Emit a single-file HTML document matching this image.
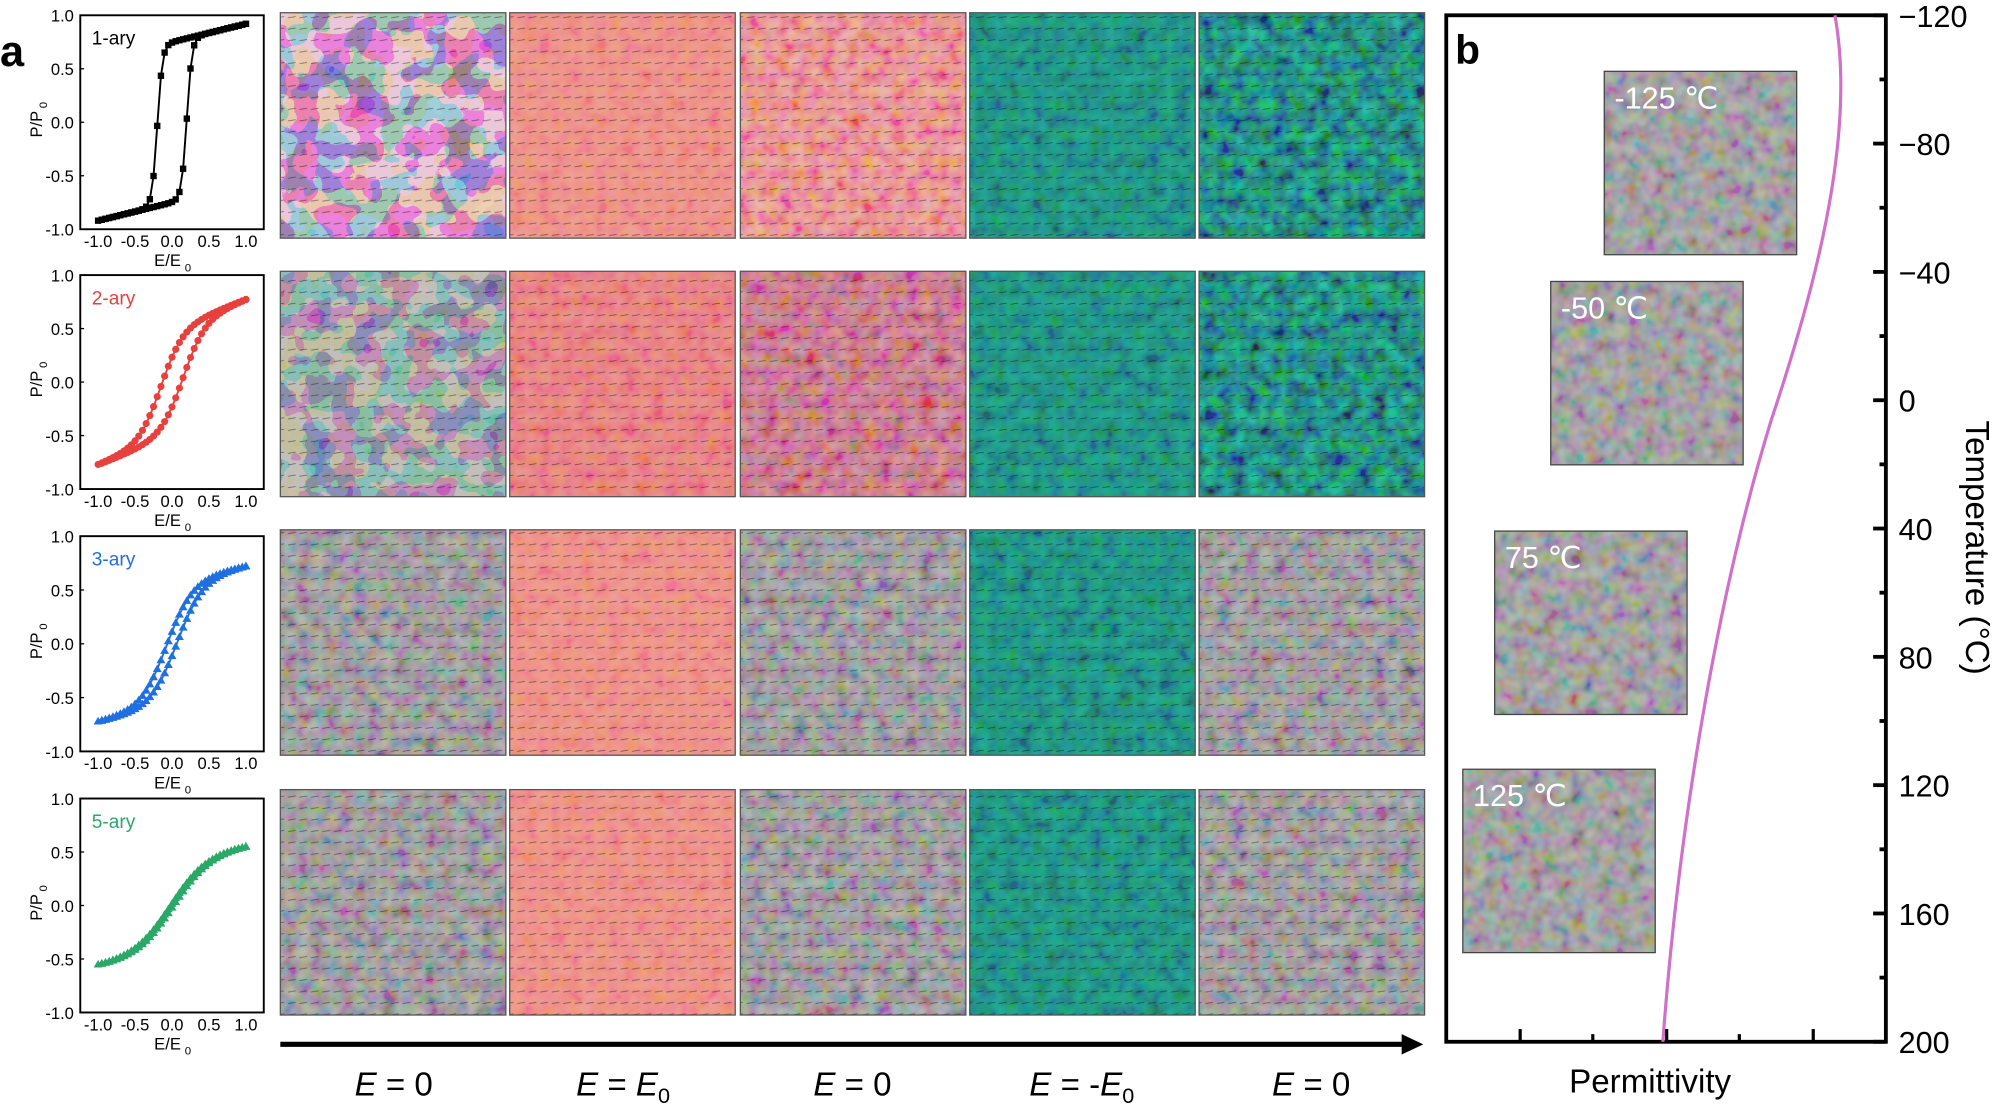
<!DOCTYPE html>
<html><head><meta charset="utf-8"><style>
html,body{margin:0;padding:0;background:#fff;}
svg{display:block;}
text{font-family:"Liberation Sans",Arial,sans-serif;}
</style></head><body>
<svg id="s" width="1998" height="1108" viewBox="0 0 1568 870" preserveAspectRatio="none" xmlns="http://www.w3.org/2000/svg">
<defs>
<filter id="nc" x="0" y="0" width="100%" height="100%"><feTurbulence type="fractalNoise" baseFrequency="0.04" numOctaves="2" seed="3"/><feComponentTransfer><feFuncR type="discrete" tableValues="0.1 0.3 0.95 1"/><feFuncG type="discrete" tableValues="0.1 0.3 0.9 1"/><feFuncB type="discrete" tableValues="0.2 0.5 0.9 0.6"/><feFuncA type="linear" slope="0" intercept="1"/></feComponentTransfer></filter>
<filter id="nc2" x="0" y="0" width="100%" height="100%"><feTurbulence type="fractalNoise" baseFrequency="0.05" numOctaves="2" seed="11"/><feComponentTransfer><feFuncR type="discrete" tableValues="0.1 0.3 0.9 1"/><feFuncG type="discrete" tableValues="0.1 0.4 0.95 1"/><feFuncB type="discrete" tableValues="0.2 0.5 0.8 0.6"/><feFuncA type="linear" slope="0" intercept="1"/></feComponentTransfer></filter>
<filter id="nf" x="0" y="0" width="100%" height="100%"><feTurbulence type="fractalNoise" baseFrequency="0.09" numOctaves="2" seed="7"/><feColorMatrix type="matrix" values="1.8 0 0 0 -0.4  0 1.8 0 0 -0.4  0 0 1.8 0 -0.4  0 0 0 0 1"/></filter>
<pattern id="arr" width="9" height="9" patternUnits="userSpaceOnUse"><line x1="1" y1="5" x2="7" y2="4" stroke="#000" stroke-width="0.6" opacity="0.5"/></pattern>
</defs>
<g id="panels"></g>
<g id="plots"></g>
<text x="0" y="52" font-size="34" font-weight="bold">a</text>
<line x1="220" y1="820" x2="1105" y2="820" stroke="#000" stroke-width="4"/>
<polygon points="1117,820 1100,812 1100,828" fill="#000"/>
<g font-size="26" text-anchor="middle">
<text x="309" y="860"><tspan font-style="italic">E</tspan> = 0</text>
<text x="489" y="860"><tspan font-style="italic">E</tspan> = <tspan font-style="italic">E</tspan><tspan font-size="17" dy="6">0</tspan></text>
<text x="669" y="860"><tspan font-style="italic">E</tspan> = 0</text>
<text x="849" y="860"><tspan font-style="italic">E</tspan> = -<tspan font-style="italic">E</tspan><tspan font-size="17" dy="6">0</tspan></text>
<text x="1029" y="860"><tspan font-style="italic">E</tspan> = 0</text>
</g>
<rect x="1135" y="12" width="345" height="806" fill="none" stroke="#000" stroke-width="3"/>
<text x="1142" y="50" font-size="32" font-weight="bold">b</text>
<g id="insets"></g>
<path d="M1440,12 C1458,110 1420,240 1390,330 C1350,460 1318,640 1305,818" fill="none" stroke="#d070c8" stroke-width="2.5"/>
<g id="rt" font-size="24"></g>
<text x="1295" y="858" font-size="26" text-anchor="middle">Permittivity</text>
<text transform="translate(1543,430) rotate(90)" font-size="26" text-anchor="middle">Temperature (°C)</text>
</svg>
<script>
const NS="http://www.w3.org/2000/svg";
function el(t,a,p,txt){const e=document.createElementNS(NS,t);for(const k in a)e.setAttribute(k,a[k]);if(txt!==undefined)e.textContent=txt;p.appendChild(e);return e;}
const P=document.getElementById('panels');
const cols=[220,400,581,761,941], rows=[10,213,416,620], W=177,H=177;
const types=[["mix","pink","pinkmix","teal","tealmix"],["mix2","pink2","pinkmix2","teal","tealmix"],["gray","pink","gray","teal","gray"],["gray","pink","gray","teal","gray"]];
const base={mix:"#c04890",mix2:"#7a6878",pink:"#ee8a80",pink2:"#e87878",pinkmix:"#e88080",pinkmix2:"#c06878",teal:"#1e8878",tealmix:"#1f7a70",gray:"#8e8a8e"};
rows.forEach((y,r)=>cols.forEach((x,c)=>{
 const t=types[r][c];
 el('rect',{x,y,width:W,height:H,fill:base[t]},P);
 if(t=="mix"||t=="mix2"){
  el('rect',{x,y,width:W,height:H,fill:"#fff",filter:t=="mix"?"url(#nc)":"url(#nc2)",opacity:t=="mix"?0.75:0.6},P);
 } else {
  let op={pink:0.18,pink2:0.25,pinkmix:0.4,pinkmix2:0.5,teal:0.3,tealmix:0.6,gray:0.4}[t];
  el('rect',{x,y,width:W,height:H,fill:"#fff",filter:"url(#nf)",opacity:op,style:"mix-blend-mode:overlay"},P);
  if(t=="tealmix")el('rect',{x,y,width:W,height:H,fill:"#30d080",filter:"url(#nc2)",opacity:0.25,style:"mix-blend-mode:multiply"},P);
 }
 el('rect',{x,y,width:W,height:H,fill:"url(#arr)"},P);
 el('rect',{x,y,width:W,height:H,fill:"none",stroke:"#555","stroke-width":1},P);
}));
const I=document.getElementById('insets');
[[1259,56,"-125 ℃"],[1217,221,"-50 ℃"],[1173,417,"75 ℃"],[1148,604,"125 ℃"]].forEach(([x,y,l])=>{
 el('rect',{x,y,width:151,height:144,fill:"#8e8c8e"},I);
 el('rect',{x,y,width:151,height:144,fill:"#fff",filter:"url(#nf)",opacity:0.4,style:"mix-blend-mode:overlay"},I);
 el('rect',{x,y,width:151,height:144,fill:"none",stroke:"#444","stroke-width":1},I);
 el('text',{x:x+8,y:y+29,"font-size":24,fill:"#fff"},I,l);
});
const R=document.getElementById('rt');
for(let T=-120;T<=200;T+=20){const y=12+(T+120)*806/320;const maj=(T+120)%40==0;
 el('line',{x1:1480,y1:y,x2:maj?1470:1475,y2:y,stroke:"#000","stroke-width":3},R);
 if(maj)el('text',{x:1490,y:y+9},R,(T<0?"−":"")+Math.abs(T));}
[1193,1250,1308,1365,1423].forEach((x,i)=>el('line',{x1:x,y1:818,x2:x,y2:i%2?812:808,stroke:"#000","stroke-width":2.5},R));
const Pl=document.getElementById('plots');
const specs=[{c:"#000",lab:"1-ary",a:0.75,ec:0.2,w:0.07,b:0.17,m:"sq"},{c:"#e8403c",lab:"2-ary",a:0.5,ec:0.15,w:0.3,b:0.27,m:"ci"},{c:"#1f6fe0",lab:"3-ary",a:0.55,ec:0.07,w:0.35,b:0.15,m:"tri"},{c:"#2aa868",lab:"5-ary",a:0.45,ec:0.02,w:0.5,b:0.1,m:"tri"}];
const tops=[12,216,421,627],bots=[180,384,590,795];
specs.forEach((s,i)=>{
 const t=tops[i],b=bots[i];const X=e=>135+e*58,Y=p=>(t+b)/2-p*(b-t)/2;
 el('rect',{x:63,y:t,width:144,height:b-t,fill:"none",stroke:"#000","stroke-width":1.5},Pl);
 [1,0.5,0,-0.5,-1].forEach(v=>{el('text',{x:58,y:Y(v)+5,"font-size":13,"text-anchor":"end"},Pl,v.toFixed(1));el('line',{x1:63,x2:66,y1:Y(v),y2:Y(v),stroke:"#000"},Pl);});
 [-1,-0.5,0,0.5,1].forEach(v=>el('text',{x:X(v),y:b+14,"font-size":13,"text-anchor":"middle"},Pl,v.toFixed(1)));
 el('text',{x:121,y:b+29,"font-size":13},Pl,"E/E");
 el('text',{x:145,y:b+33,"font-size":9},Pl,"0");
 el('text',{transform:`translate(33,${(t+b)/2+12}) rotate(-90)`,"font-size":13},Pl,"P/P");
 el('text',{transform:`translate(37,${(t+b)/2-11}) rotate(-90)`,"font-size":9},Pl,"0");
 el('text',{x:72,y:t+23,"font-size":15,fill:s.c},Pl,s.lab);
 const f=(e,sg)=>s.a*Math.tanh((e+sg*s.ec)/s.w)+s.b*e;
 const n=(1*s.a*Math.tanh((1-s.ec)/s.w)+s.b);const sc=(i==0?0.92:i==1?0.77:i==2?0.72:0.55)/n;
 let d="",pts=[];
 for(let k=0;k<=40;k++){const e=1-k/20;pts.push([e,f(e,1)*sc]);}
 for(let k=1;k<=40;k++){const e=-1+k/20;pts.push([e,f(e,-1)*sc]);}
 pts.forEach((p,k)=>d+=(k?"L":"M")+X(p[0]).toFixed(1)+","+Y(p[1]).toFixed(1));
 el('path',{d,fill:"none",stroke:s.c,"stroke-width":1.5},Pl);
 pts.forEach(p=>{const x=X(p[0]),y=Y(p[1]);
  if(s.m=="sq")el('rect',{x:x-2.5,y:y-2.5,width:5,height:5,fill:s.c},Pl);
  else if(s.m=="ci")el('circle',{cx:x,cy:y,r:2.8,fill:s.c},Pl);
  else el('polygon',{points:`${x},${y-3.5} ${x-3.5},${y+2.5} ${x+3.5},${y+2.5}`,fill:s.c},Pl);});
});
</script>
</body></html>
